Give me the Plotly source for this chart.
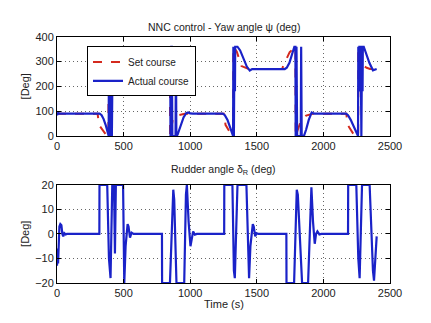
import plotly.graph_objects as go

# ---------------- data ----------------
set_t = [0, 305, 315, 375, 386, 387, 420, 470, 500, 790, 820, 845, 848, 849,
         870, 900, 960, 1255, 1265, 1315, 1323, 1324, 1350, 1385, 1422, 1440,
         1690, 1700, 1747, 1775, 1790, 1792, 1830, 1870, 1920, 2172, 2182,
         2235, 2261, 2262, 2275, 2297, 2325, 2350, 2400]
set_v = [90, 90, 45, 0, 0, 360, 340, 290, 270, 270, 320, 355, 360, 0,
         70, 82, 90, 90, 45, 0, 0, 360, 340, 282, 273, 270,
         270, 285, 338, 355, 360, 0, 60, 82, 90, 90, 45,
         0, 0, 360, 330, 285, 275, 270, 270]

act_t = [0, 8, 20, 320, 335, 350, 365, 378, 385, 388, 390, 400, 404, 412, 418,
         428, 432, 434, 445, 480, 515, 540, 790, 810, 835, 850, 852, 856, 858,
         862, 866, 890, 893, 896, 905, 925, 950, 970, 985, 1000, 1020, 1245,
         1260, 1280, 1300, 1315, 1322, 1324, 1328, 1332, 1336, 1338, 1355,
         1375, 1400, 1425, 1447, 1465, 1710, 1725, 1745, 1765, 1782, 1790,
         1792, 1798, 1803, 1830, 1833, 1837, 1855, 1870, 1890, 1912, 1930,
         2170, 2185, 2205, 2225, 2245, 2255, 2260, 2262, 2268, 2270, 2280,
         2285, 2290, 2294, 2296, 2303, 2320, 2345, 2372, 2385, 2400]
act_v = [84, 92, 90, 90, 84, 68, 45, 18, 3, 0, 360, 355, 0, 0, 360,
         355, 180, 355, 350, 300, 265, 270, 270, 280, 330, 358, 0, 0, 360,
         360, 0, 0, 360, 0, 5, 40, 75, 92, 95, 91, 90, 90,
         84, 65, 35, 10, 0, 360, 0, 360, 180, 360, 360,
         345, 312, 280, 264, 270, 270, 275, 295, 330, 360, 360,
         0, 360, 0, 0, 360, 0, 2, 25, 65, 95, 90,
         90, 84, 65, 40, 12, 0, 0, 360, 180, 360, 360,
         0, 360, 180, 360, 360, 335, 295, 265, 268, 270]

rud_t = [0, 4, 8, 12, 18, 25, 33, 40, 47, 55, 65, 75, 318, 319, 377, 390, 395,
         402, 408, 415, 428, 435, 442, 496, 505, 515, 530, 537, 548, 560, 575,
         788, 789, 848, 873, 880, 897, 955, 968, 975, 988, 1002, 1012, 1022,
         1035, 1050, 1255, 1256, 1317, 1328, 1335, 1345, 1355, 1422, 1435,
         1442, 1452, 1470, 1477, 1488, 1498, 1512, 1722, 1723, 1780, 1800,
         1808, 1840, 1885, 1903, 1910, 1922, 1935, 1945, 1955, 1970, 1985,
         2185, 2186, 2247, 2262, 2272, 2280, 2290, 2347, 2362, 2372, 2380,
         2390, 2397, 2400]
rud_v = [-13, -6, -12, -3, 3, 4, 3.5, 0, -1, 0.3, -0.2, 0, 0, 20, 20, -10, -14,
         -18, 0, 20, 20, -8, 20, 20, -20, -5, 4, 3, -1.5, 0.5, 0,
         0, -20, -20, 18, 14, -20, -20, 16, 20, 5, -5, -2, 1,
         -0.3, 0, 0, 20, 20, -15, -18, 0, 20, 20, -10,
         -18, -5, 4, 3, -1, 0.3, 0, 0, -20, -20, 18,
         16, -20, -20, 16, 19, 5, -4, 0, 1, -0.2, 0,
         0, 20, 20, -10, -18, 0, 20, 20, -5, -15, -19,
         -8, -2, -1]

x_ticks = [0, 500, 1000, 1500, 2000, 2500]
yaw_ticks = [0, 100, 200, 300, 400]
rud_ticks = [-20, -10, 0, 10, 20]

# ---------------- figure ----------------
W, H = 431, 323
L, R = 57, 41
FONT = "Liberation Sans, Arial, sans-serif"
BLUE = "#1a22c8"
RED = "#d42a1e"
TXT = "#222"

fig = go.Figure()
fig.add_trace(go.Scatter(x=set_t, y=set_v, mode="lines", name="Set course",
                         line=dict(color=RED, width=2, dash="dash"),
                         xaxis="x", yaxis="y"))
fig.add_trace(go.Scatter(x=act_t, y=act_v, mode="lines", name="Actual course",
                         line=dict(color=BLUE, width=2.2),
                         xaxis="x", yaxis="y"))
fig.add_trace(go.Scatter(x=rud_t, y=rud_v, mode="lines", showlegend=False,
                         line=dict(color=BLUE, width=2.2),
                         xaxis="x2", yaxis="y2"))


def ydom(top_px, bot_px):
    return [1 - bot_px / H, 1 - top_px / H]


axis_common = dict(showline=True, mirror="ticks", linecolor="black", linewidth=1,
                   ticks="inside", ticklen=4, tickcolor="black",
                   showgrid=True, gridcolor="rgba(0,0,0,0.6)", gridwidth=1,
                   griddash="1px,3px", zeroline=False,
                   tickfont=dict(family=FONT, size=11, color=TXT))

fig.update_layout(
    width=W, height=H,
    margin=dict(l=L, r=R, t=0, b=0),
    paper_bgcolor="white", plot_bgcolor="white",
    font=dict(family=FONT, size=10.5, color=TXT),
    xaxis=dict(domain=[0, 1], range=[0, 2500], tickvals=x_ticks, anchor="y",
               **axis_common),
    yaxis=dict(domain=ydom(32, 135), range=[0, 400], tickvals=yaw_ticks,
               anchor="x", **axis_common),
    xaxis2=dict(domain=[0, 1], range=[0, 2500], tickvals=x_ticks, anchor="y2",
                **axis_common),
    yaxis2=dict(domain=ydom(185.7, 287.7), range=[-20, 20], tickvals=rud_ticks,
                anchor="x2", **axis_common),
    showlegend=True,
    legend=dict(x=(87 - L) / (W - L - R), y=1 - 42 / H, xanchor="left",
                yanchor="top", bgcolor="white", bordercolor="black",
                borderwidth=1, itemwidth=30,
                font=dict(family=FONT, size=10, color=TXT),
                tracegroupgap=0),
    annotations=[
        dict(text="NNC control - Yaw angle ψ (deg)", x=0.5, y=1 - 22 / H,
             xref="paper", yref="paper", showarrow=False, xanchor="center",
             yanchor="middle", font=dict(family=FONT, size=10.5, color=TXT)),
        dict(text="Rudder angle δ<sub>R</sub> (deg)", x=0.5, y=1 - 170 / H,
             xref="paper", yref="paper", showarrow=False, xanchor="center",
             yanchor="middle", font=dict(family=FONT, size=10.5, color=TXT)),
        dict(text="Time (s)", x=0.5, y=1 - 309 / H,
             xref="paper", yref="paper", showarrow=False, xanchor="center",
             yanchor="middle", font=dict(family=FONT, size=11, color=TXT)),
        dict(text="[Deg]", x=(25 - L) / (W - L - R), y=1 - 83.5 / H,
             xref="paper", yref="paper", showarrow=False, textangle=-90,
             xanchor="center", yanchor="middle",
             font=dict(family=FONT, size=11, color=TXT)),
        dict(text="[Deg]", x=(25 - L) / (W - L - R), y=1 - 236.7 / H,
             xref="paper", yref="paper", showarrow=False, textangle=-90,
             xanchor="center", yanchor="middle",
             font=dict(family=FONT, size=11, color=TXT)),
    ],
)

fig.write_html("out.html")
